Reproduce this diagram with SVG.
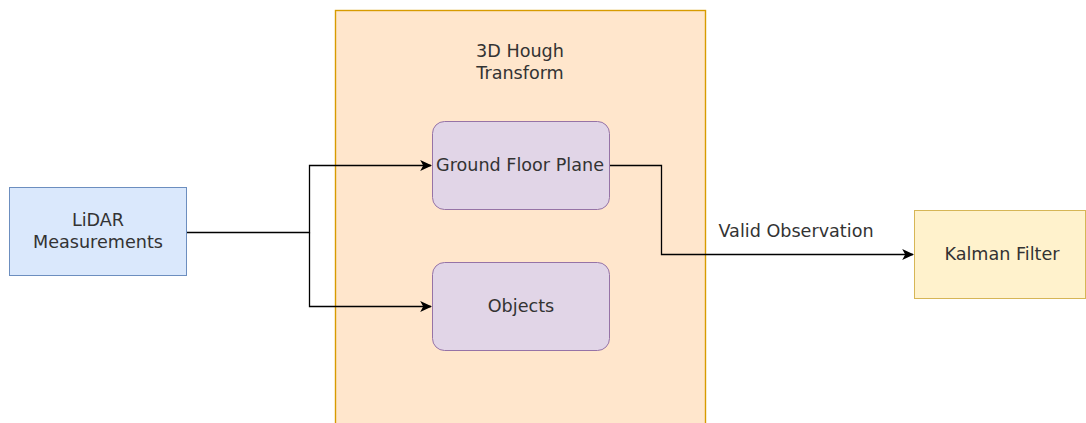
<svg xmlns="http://www.w3.org/2000/svg" width="1086" height="423" viewBox="0 0 1086 423">
  <defs>
    <marker id="arrow" viewBox="0 0 10 10" refX="9" refY="5" markerWidth="12" markerHeight="12" markerUnits="userSpaceOnUse" orient="auto">
      <path d="M0,0.5 L10,5 L0,9.5 L2.5,5 Z" fill="#000"/>
    </marker>
  </defs>
  <style>
    text { font-family: "DejaVu Sans", Verdana, sans-serif; font-size: 17.6px; fill: #333; text-anchor: middle; }
    .conn { fill: none; stroke: #000; stroke-width: 1.3; }
  </style>
  <rect width="1086" height="423" fill="#fff"/>

  <g id="hough">
    <rect x="335.5" y="10.5" width="370" height="430" fill="#ffe6cc" stroke="#d79b00" stroke-width="1.4"/>
    <text x="520" y="57">3D Hough</text>
    <text x="520" y="79">Transform</text>
  </g>

  <g id="lidar">
    <rect x="9.5" y="187.5" width="177" height="88" fill="#dae8fc" stroke="#6c8ebf"/>
    <text x="98" y="226">LiDAR</text>
    <text x="98" y="248">Measurements</text>
  </g>

  <g id="ground">
    <rect x="432.5" y="121.5" width="177" height="88" rx="12" fill="#e1d5e7" stroke="#9673a6"/>
    <text x="520" y="171">Ground Floor Plane</text>
  </g>

  <g id="objects">
    <rect x="432.5" y="262.5" width="177" height="88" rx="12" fill="#e1d5e7" stroke="#9673a6"/>
    <text x="521" y="312">Objects</text>
  </g>

  <g id="kalman">
    <rect x="914.5" y="210.5" width="171" height="88" fill="#fff2cc" stroke="#d6b656"/>
    <text x="1002" y="260">Kalman Filter</text>
  </g>

  <g id="connectors">
    <path class="conn" d="M187,232.5 H309.5 V165.5 H431" marker-end="url(#arrow)"/>
    <path class="conn" d="M309.5,232.5 V306.5 H431" marker-end="url(#arrow)"/>
    <path class="conn" d="M610,165.5 H661.5 V254.5 H913" marker-end="url(#arrow)"/>
    <text x="796" y="237">Valid Observation</text>
  </g>
</svg>
